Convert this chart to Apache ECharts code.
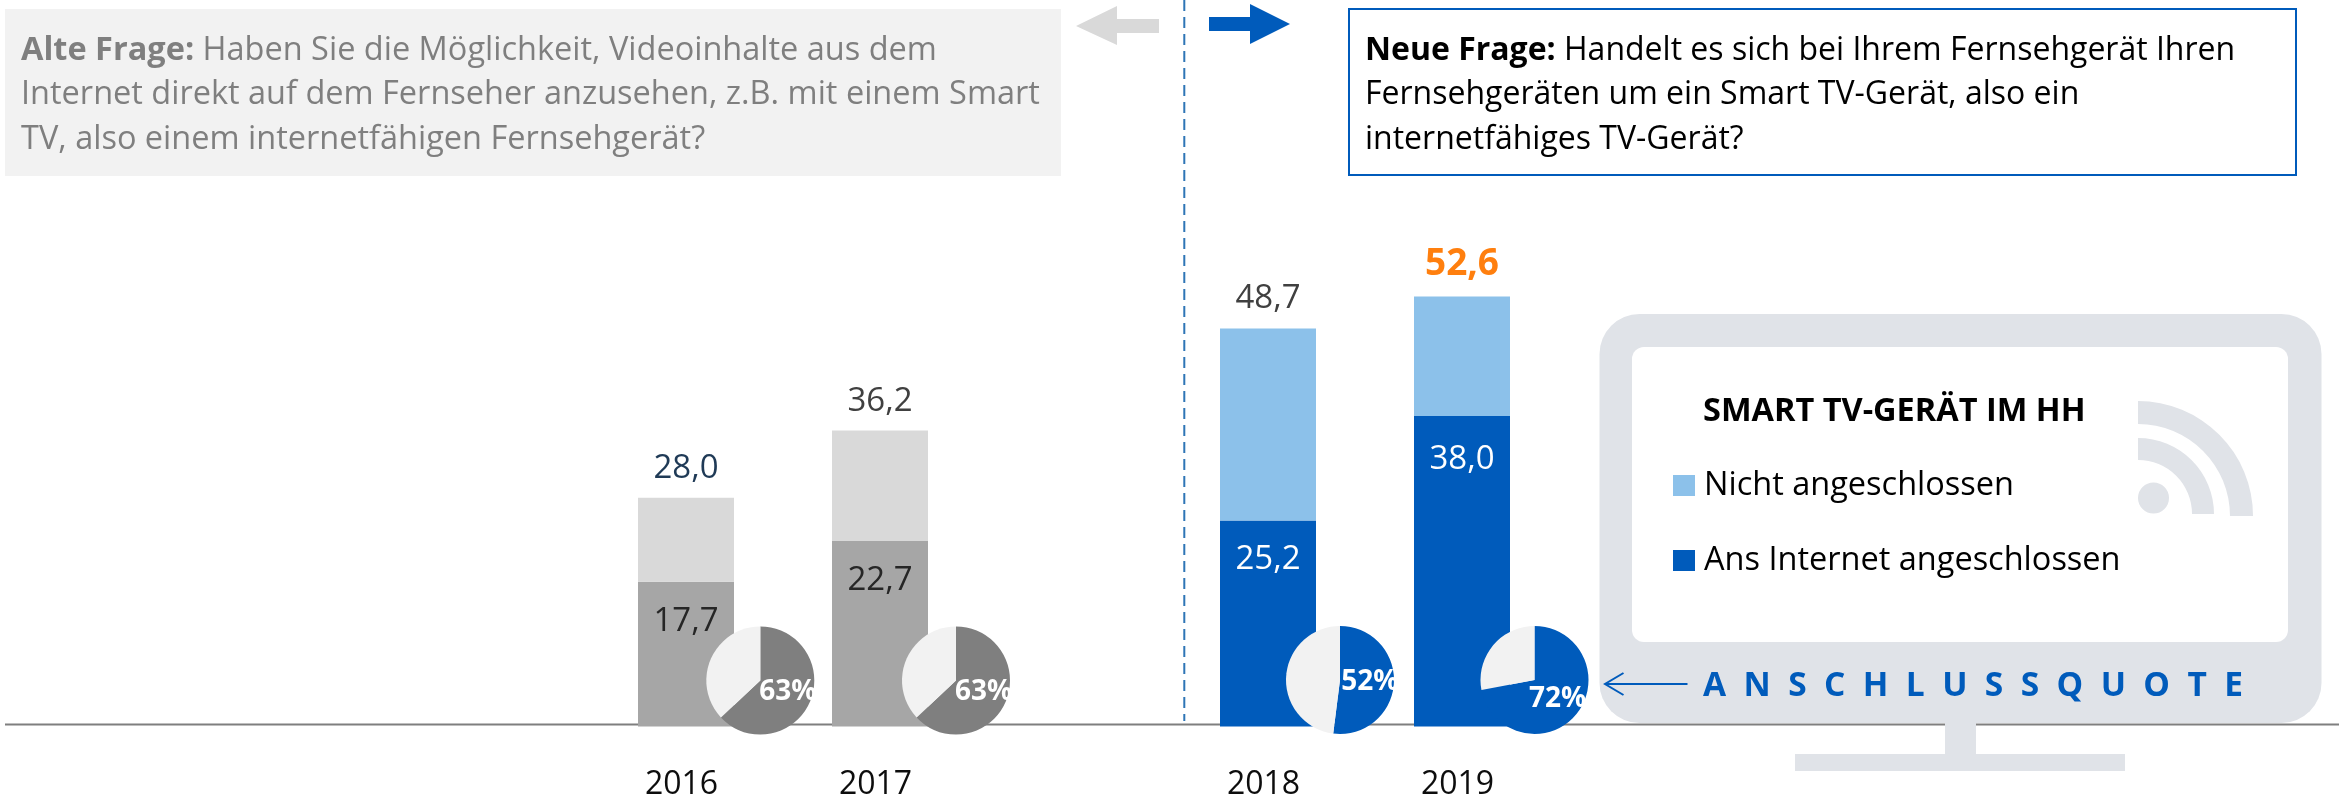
<!DOCTYPE html>
<html>
<head>
<meta charset="utf-8">
<title>Smart TV</title>
<script src="https://cdn.jsdelivr.net/npm/echarts@6/dist/echarts.min.js"></script>
<style>
  html, body { margin: 0; padding: 0; background: #fff; }
  #chart { width: 2339px; height: 803px; }
</style>
</head>
<body>
<div id="chart"></div>
<script>
// blanks keep the bands where the original chart had them
const years = ['', '', '', '2016', '2017', '', '2018', '2019', '', '', '', '']
const connected = [null, null, null, 17.7, 22.7, null, 25.2, 38.0, null, null, null, null]
const notConnected = [null, null, null, 10.3, 13.5, null, 23.5, 14.6, null, null, null, null]
const totals = [null, null, null, 28.0, 36.2, null, 48.7, 52.6, null, null, null, null]
const quoteYears = ['2016', '2017', '2018', '2019']
const quotes = [63, 63, 52, 72]

const FONT = '"Open Sans", sans-serif'
const BLUE = '#005bbb'
const LIGHT_BLUE = '#8cc1ea'
const TV = '#e0e3e8'

const isOld = y => y === '2016' || y === '2017'
const comma = v => v.toFixed(1).replace('.', ',')

// colours of the old question (grey) and the new one (blue)
const connectedData = connected.map((v, i) => ({
  value: v,
  itemStyle: { color: isOld(years[i]) ? '#a6a6a6' : BLUE },
  label: {
    color: isOld(years[i]) ? '#262626' : '#fff',
    distance: years[i] === '2019' ? 27 : 23
  }
}))
const totalLabel = {
  '2016': { color: '#1f3a56' },
  '2019': { color: '#ff7f0e', fontWeight: 'bold', fontSize: 37, distance: 14 }
}
const notConnectedData = notConnected.map((v, i) => ({
  value: v,
  itemStyle: { color: isOld(years[i]) ? '#d9d9d9' : LIGHT_BLUE },
  label: totalLabel[years[i]] || {}
}))

const pieCenters = [[760.3, 680.5], [956, 680.5], [1340, 680], [1534.5, 680]]
const pies = quotes.map((q, i) => ({
  type: 'pie',
  name: quoteYears[i],
  center: pieCenters[i],
  radius: [0, 54],
  startAngle: 90,
  clockwise: true,
  z: 5,
  silent: true,
  labelLine: { show: false },
  data: [
    {
      value: q,
      itemStyle: { color: i < 2 ? '#7f7f7f' : BLUE },
      label: { show: true, position: 'inside', formatter: q + '%', color: '#fff', fontFamily: FONT, fontWeight: 'bold', fontSize: 28 }
    },
    { value: 100 - q, itemStyle: { color: '#f2f2f2' }, label: { show: false } }
  ]
}))

function questionText(x, size, head, lines, color) {
  const rich = {
    b: { fontFamily: FONT, fontSize: size, fontWeight: 'bold', fill: color, lineHeight: 44.5 },
    n: { fontFamily: FONT, fontSize: size, fill: color, lineHeight: 44.5 }
  }
  const body = lines.map((l, i) => i === 0 ? `{b|${head}}{n| ${l}}` : `{n|${l}}`).join('\n')
  return { type: 'text', x: x, y: 95, style: { text: body, rich: rich, verticalAlign: 'middle', fill: color } }
}

const graphics = [
  // baseline runs behind everything
  { type: 'line', shape: { x1: 5, y1: 724.5, x2: 2339, y2: 724.5 }, style: { stroke: '#7f7f7f', lineWidth: 2 } },
  { type: 'line', shape: { x1: 1184.3, y1: 0, x2: 1184.3, y2: 721 }, style: { stroke: '#2e75b6', lineWidth: 2, lineDash: [11, 6] } },

  // question boxes
  { type: 'rect', shape: { x: 5, y: 9, width: 1056, height: 167 }, style: { fill: '#f2f2f2' } },
  questionText(21, 32.5, 'Alte Frage:', ['Haben Sie die Möglichkeit, Videoinhalte aus dem', 'Internet direkt auf dem Fernseher anzusehen, z.B. mit einem Smart', 'TV, also einem internetfähigen Fernsehgerät?'], '#7f7f7f'),
  { type: 'rect', shape: { x: 1349, y: 9, width: 947, height: 166 }, style: { fill: '#fff', stroke: BLUE, lineWidth: 2 } },
  questionText(1365, 32, 'Neue Frage:', ['Handelt es sich bei Ihrem Fernsehgerät Ihren', 'Fernsehgeräten um ein Smart TV-Gerät, also ein', 'internetfähiges TV-Gerät?'], '#000'),

  // arrows
  { type: 'polygon', shape: { points: [[1076, 26], [1117, 6], [1117, 19], [1159, 19], [1159, 33], [1117, 33], [1117, 45]] }, style: { fill: '#d9d9d9' } },
  { type: 'polygon', shape: { points: [[1290, 24], [1250, 4], [1250, 17], [1209, 17], [1209, 31], [1250, 31], [1250, 44]] }, style: { fill: BLUE } },

  // TV
  { type: 'rect', shape: { x: 1945, y: 720, width: 31, height: 40 }, style: { fill: TV } },
  { type: 'rect', shape: { x: 1795, y: 754, width: 330, height: 17 }, style: { fill: TV } },
  { type: 'rect', shape: { x: 1599.5, y: 314, width: 722, height: 409, r: 40 }, style: { fill: TV } },
  { type: 'rect', shape: { x: 1632, y: 347, width: 656, height: 295, r: 12 }, style: { fill: '#fff' } },
  { type: 'circle', shape: { cx: 2153.5, cy: 498, r: 15.5 }, style: { fill: TV } },
  { type: 'sector', shape: { cx: 2138, cy: 514, r0: 54, r: 76, startAngle: -Math.PI / 2, endAngle: 0, clockwise: true }, style: { fill: TV } },
  { type: 'sector', shape: { cx: 2138, cy: 516, r0: 92, r: 115, startAngle: -Math.PI / 2, endAngle: 0, clockwise: true }, style: { fill: TV } },
  { type: 'text', x: 1703, y: 412, style: { text: 'SMART TV-GERÄT IM HH', fontFamily: FONT, fontSize: 32.5, fontWeight: 'bold', fill: '#000', verticalAlign: 'middle' } },
  { type: 'polyline', shape: { points: [[1687.5, 684], [1605, 684]] }, style: { stroke: BLUE, lineWidth: 2, fill: null } },
  { type: 'polyline', shape: { points: [[1623.5, 673], [1605, 684], [1623.5, 695]] }, style: { stroke: BLUE, lineWidth: 2, fill: null } },
  { type: 'text', x: 1703, y: 686, style: { text: 'A  N  S  C  H  L  U  S  S  Q  U  O  T  E', fontFamily: FONT, fontSize: 33.5, fontWeight: 'bold', fill: BLUE, verticalAlign: 'middle' } }
]

const chart = echarts.init(document.getElementById('chart'), null, { renderer: 'canvas' })
chart.setOption({
  animation: false,
  textStyle: { fontFamily: FONT },
  graphic: { elements: graphics },
  grid: { left: 7, right: 4, top: 236, height: 490.6 },
  legend: {
    data: ['Nicht angeschlossen', 'Ans Internet angeschlossen'],
    orient: 'vertical',
    left: 1673,
    top: 469,
    padding: 0,
    icon: 'rect',
    itemWidth: 22,
    itemHeight: 21,
    itemGap: 42,
    selectedMode: false,
    z: 6,
    textStyle: { fontFamily: FONT, fontSize: 32.5, color: '#000', lineHeight: 30, padding: [0, 0, 0, 4] }
  },
  xAxis: {
    type: 'category',
    data: years,
    axisLine: { show: false },
    axisTick: { show: false },
    axisLabel: { interval: 0, margin: 42, fontFamily: FONT, fontSize: 32, color: '#0d0d0d', padding: [0, 9, 0, 0] }
  },
  yAxis: { type: 'value', min: 0, max: 60, show: false },
  series: [
    {
      name: 'Ans Internet angeschlossen',
      type: 'bar',
      stack: 'tv',
      barWidth: 96,
      itemStyle: { color: BLUE },
      label: { show: true, position: 'insideTop', distance: 23, fontFamily: FONT, fontSize: 33, formatter: p => comma(p.value) },
      data: connectedData
    },
    {
      name: 'Nicht angeschlossen',
      type: 'bar',
      stack: 'tv',
      barWidth: 96,
      itemStyle: { color: LIGHT_BLUE },
      label: {
        show: true,
        position: 'top',
        distance: 13,
        fontFamily: FONT,
        fontSize: 33,
        color: '#404040',
        formatter: p => comma(totals[p.dataIndex])
      },
      data: notConnectedData
    }
  ].concat(pies)
})
</script>
</body>
</html>
